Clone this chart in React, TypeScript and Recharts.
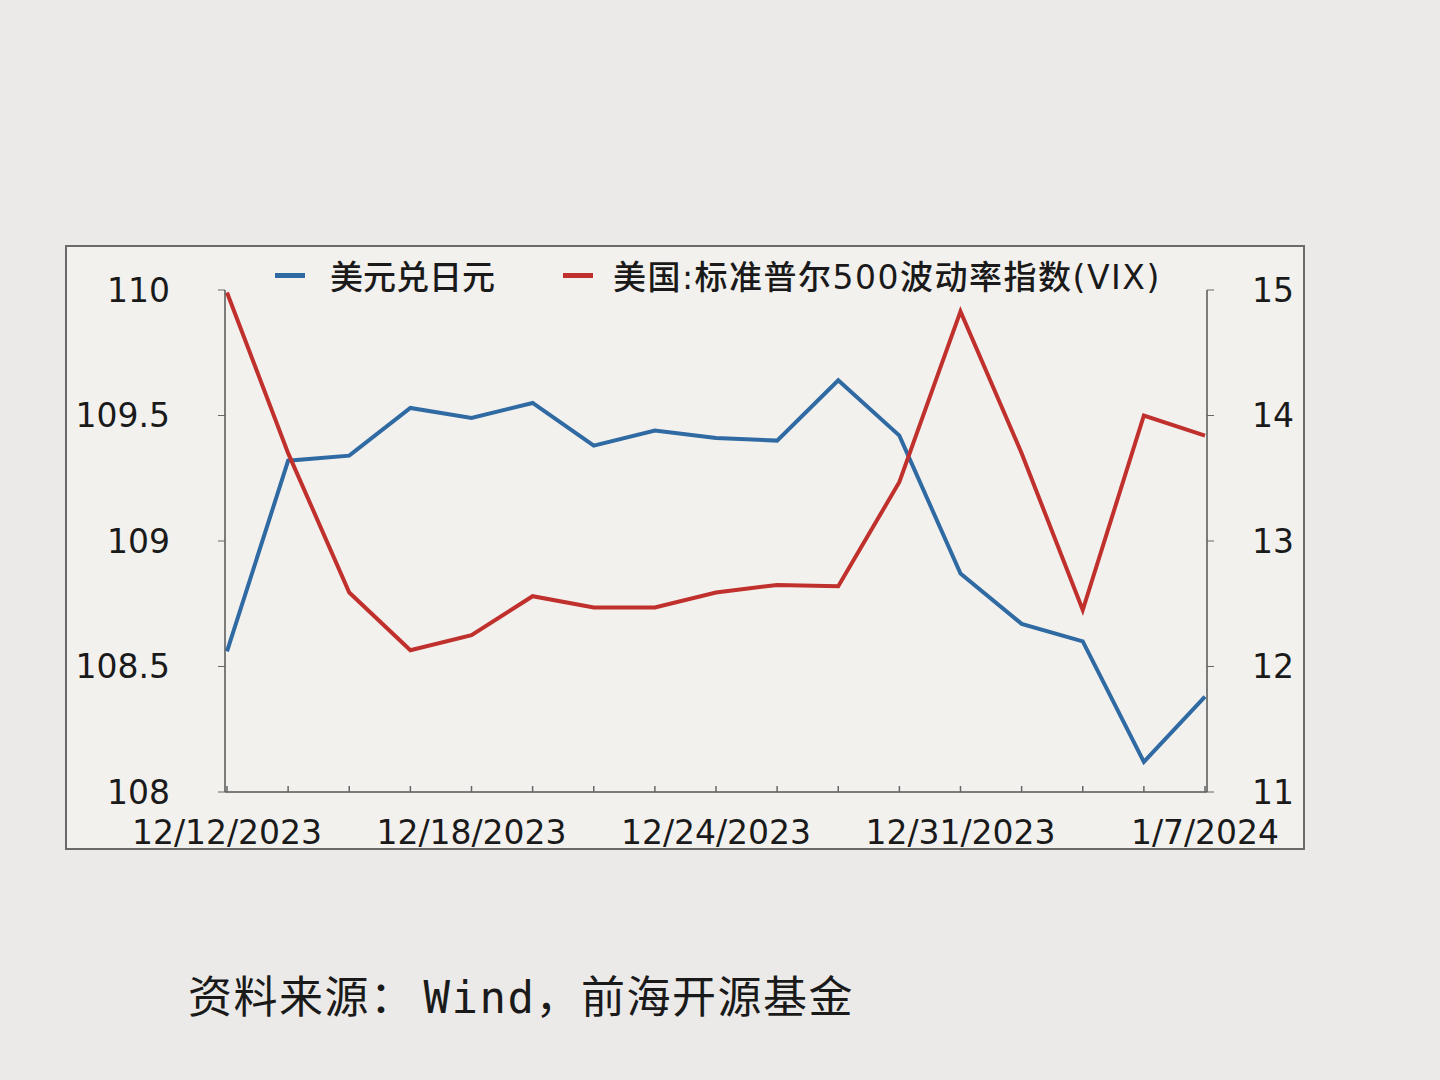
import React from 'react';
import { LineChart, Line, XAxis, YAxis } from 'recharts';

const dates = [
  '12/12/2023', '12/13/2023', '12/14/2023', '12/15/2023', '12/18/2023', '12/19/2023',
  '12/20/2023', '12/21/2023', '12/24/2023', '12/26/2023', '12/27/2023', '12/28/2023',
  '12/31/2023', '1/2/2024', '1/3/2024', '1/4/2024', '1/7/2024',
];
const shownDates = ['12/12/2023', '12/18/2023', '12/24/2023', '12/31/2023', '1/7/2024'];

// 美元兑日元 (left axis)
const usdJpy = [108.56, 109.32, 109.34, 109.53, 109.49, 109.55, 109.38, 109.44, 109.41, 109.40, 109.64, 109.42, 108.87, 108.67, 108.60, 108.12, 108.38];
// VIX (right axis)
const vix = [14.98, 13.7, 12.59, 12.13, 12.25, 12.56, 12.47, 12.47, 12.59, 12.65, 12.64, 13.47, 14.83, 13.7, 12.45, 14.0, 13.84];

const leftTicks = [108, 108.5, 109, 109.5, 110];
const rightTicks = [11, 12, 13, 14, 15];

const BLUE = '#2f6aa3';
const RED = '#c0302c';
const FONT = 'Verdana, "DejaVu Sans", sans-serif';

const data = dates.map((d, i) => ({ date: d, usdJpy: usdJpy[i], vix: vix[i] }));

const DateTick = (props: any) => {
  const { x, y, payload } = props;
  const label = shownDates.includes(payload.value) ? payload.value : '';
  return (
    <g>
      <line x1={x} x2={x} y1={y} y2={y - 6} stroke="#666" strokeWidth={1.5} />
      {label && (
        <text x={x} y={y + 52} textAnchor="middle" fontSize={33} fill="#1a1a1a" fontFamily={FONT}>
          {label}
        </text>
      )}
    </g>
  );
};

export default function App() {
  return (
    <div style={{ position: 'absolute', left: 0, top: 0, width: 1440, height: 1080, background: '#ebeae8', overflow: 'hidden' }}>
      <div style={{ position: 'absolute', left: 65, top: 245, width: 1240, height: 605, border: '2px solid #6a6a6a', background: '#f3f1ee', boxSizing: 'border-box' }}>
        <LineChart width={1236} height={640} data={data} margin={{ top: 43, right: 0, bottom: 39, left: 0 }}>
          <XAxis
            dataKey="date"
            interval={0}
            tick={<DateTick />}
            tickLine={false}
            tickSize={0}
            tickMargin={0}
            height={56}
            axisLine={{ stroke: '#555', strokeWidth: 1.5 }}
            padding={{ left: 2, right: 2 }}
          />
          <YAxis
            yAxisId="left"
            domain={[108, 110]}
            ticks={leftTicks}
            width={158}
            tickSize={7}
            tickMargin={48}
            tickLine={{ stroke: '#666' }}
            axisLine={{ stroke: '#555', strokeWidth: 1.5 }}
            tick={{ fontSize: 33, fill: '#1a1a1a', fontFamily: FONT }}
            tickFormatter={(v: number) => String(v)}
          />
          <YAxis
            yAxisId="right"
            orientation="right"
            domain={[11, 15]}
            ticks={rightTicks}
            width={96}
            tickSize={7}
            tickMargin={38}
            tickLine={{ stroke: '#666' }}
            axisLine={{ stroke: '#555', strokeWidth: 1.5 }}
            tick={{ fontSize: 33, fill: '#1a1a1a', fontFamily: FONT }}
          />
          <Line yAxisId="left" type="linear" dataKey="usdJpy" stroke={BLUE} strokeWidth={4} dot={false} isAnimationActive={false} />
          <Line yAxisId="right" type="linear" dataKey="vix" stroke={RED} strokeWidth={4} dot={false} isAnimationActive={false} />
        </LineChart>
        <div style={{ position: 'absolute', left: 208, top: 4, display: 'flex', alignItems: 'center', fontFamily: '"DejaVu Sans", "Noto Sans CJK SC", sans-serif', fontSize: 33, fontWeight: 500, color: '#1a1a1a', whiteSpace: 'nowrap' }}>
          <span style={{ display: 'inline-block', width: 30, height: 5, background: BLUE, marginRight: 25 }} />
          <span>美元兑日元</span>
          <span style={{ display: 'inline-block', width: 30, height: 5, background: RED, marginLeft: 68, marginRight: 20 }} />
          <span style={{ letterSpacing: 1.5 }}>美国:标准普尔500波动率指数(VIX)</span>
        </div>
      </div>
      <div style={{ position: 'absolute', left: 188, top: 962, fontFamily: '"Noto Sans CJK SC", sans-serif', fontSize: 44, letterSpacing: 1.5, color: '#1a1a1a', whiteSpace: 'nowrap' }}>
        资料来源：<span style={{ fontFamily: '"DejaVu Sans Mono", "Liberation Mono", monospace', marginLeft: 8 }}>Wind</span>，前海开源基金
      </div>
    </div>
  );
}
